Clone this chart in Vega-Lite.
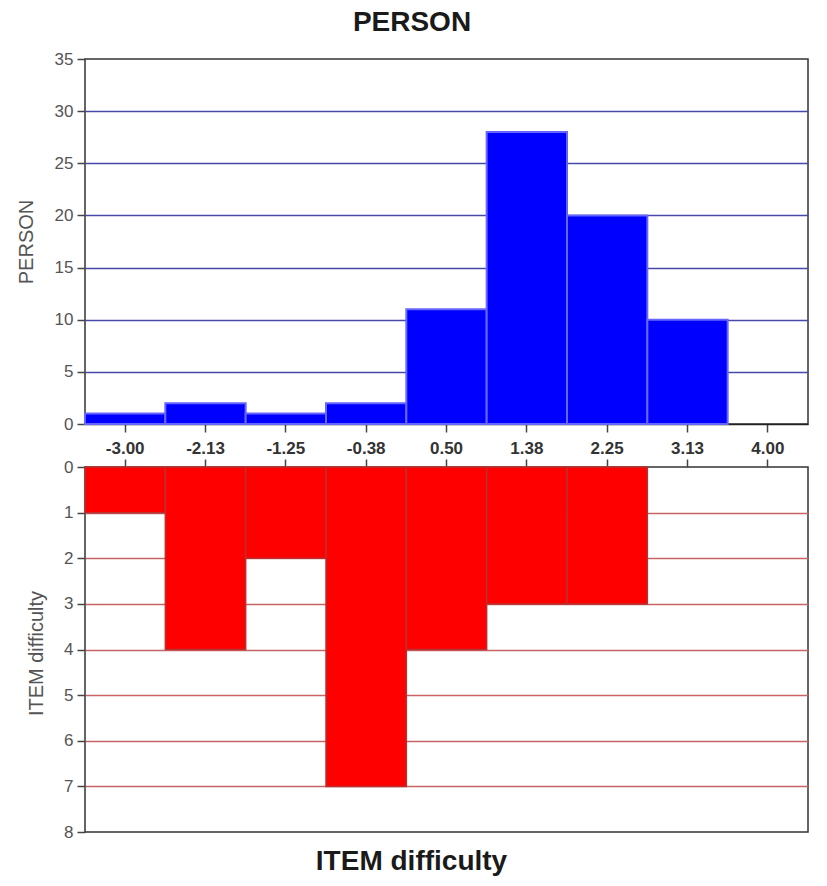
{
  "$schema": "https://vega.github.io/schema/vega-lite/v6.json",
  "padding": {"left": 15, "top": 9, "right": 5, "bottom": 5},
  "background": "white",
  "bounds": "flush",
  "spacing": 43,
  "title": {"text": "PERSON", "font": "Liberation Sans", "fontSize": 28, "fontWeight": "bold", "color": "#1a1a1a", "anchor": "middle", "offset": 12},
  "config": {"view": {"stroke": "#333333", "strokeWidth": 1.5}, "font": "Liberation Sans"},
  "datasets": {
    "person": [
      {"bin": "-3.00", "count": 1},
      {"bin": "-2.13", "count": 2},
      {"bin": "-1.25", "count": 1},
      {"bin": "-0.38", "count": 2},
      {"bin": "0.50", "count": 11},
      {"bin": "1.38", "count": 28},
      {"bin": "2.25", "count": 20},
      {"bin": "3.13", "count": 10}
    ],
    "item": [
      {"bin": "-3.00", "count": 1},
      {"bin": "-2.13", "count": 4},
      {"bin": "-1.25", "count": 2},
      {"bin": "-0.38", "count": 7},
      {"bin": "0.50", "count": 4},
      {"bin": "1.38", "count": 3},
      {"bin": "2.25", "count": 3}
    ]
  },
  "vconcat": [
    {
      "width": 723,
      "height": 365,
      "data": {"name": "person"},
      "mark": {"type": "bar", "fill": "#0000ff", "stroke": "#6666ff", "strokeWidth": 2},
      "encoding": {
        "x": {
          "field": "bin", "type": "ordinal",
          "scale": {"domain": ["-3.00", "-2.13", "-1.25", "-0.38", "0.50", "1.38", "2.25", "3.13", "4.00"], "paddingInner": 0, "paddingOuter": 0},
          "axis": {"orient": "bottom", "title": null, "labelAngle": 0, "domain": true, "domainColor": "#222222", "domainWidth": 1.5, "tickSize": 8, "tickColor": "#444444", "tickWidth": 1.5, "labelFontSize": 17, "labelFontWeight": "bold", "labelColor": "#333333", "labelPadding": 8, "grid": false}
        },
        "y": {
          "field": "count", "type": "quantitative",
          "scale": {"domain": [0, 35], "nice": false, "zero": true},
          "axis": {
            "values": [0, 5, 10, 15, 20, 25, 30, 35],
            "grid": true, "gridColor": "#4848a8", "gridWidth": 1.5,
            "gridOpacity": {"condition": {"test": "datum.value === 0 || datum.value === 35", "value": 0}, "value": 1},
            "domain": false, "tickSize": 8, "tickColor": "#444444", "tickWidth": 1.5,
            "labelFontSize": 17, "labelColor": "#555555", "labelPadding": 4,
            "title": "PERSON", "titleFontSize": 20, "titleFontWeight": "normal", "titleColor": "#555555",
            "titleX": -53, "titleY": 182.5, "titleAngle": -90, "titleBaseline": "alphabetic", "titleAlign": "center"
          }
        }
      }
    },
    {
      "width": 723,
      "height": 365,
      "data": {"name": "item"},
      "title": {"text": "ITEM difficulty", "orient": "bottom", "font": "Liberation Sans", "fontSize": 28, "fontWeight": "bold", "color": "#1a1a1a", "anchor": "middle", "offset": 8, "dx": -35},
      "mark": {"type": "bar", "fill": "#ff0000", "stroke": "#b83030", "strokeWidth": 1.5},
      "encoding": {
        "x": {
          "field": "bin", "type": "ordinal",
          "scale": {"domain": ["-3.00", "-2.13", "-1.25", "-0.38", "0.50", "1.38", "2.25", "3.13", "4.00"], "paddingInner": 0, "paddingOuter": 0},
          "axis": {"orient": "top", "title": null, "labels": false, "domain": false, "tickSize": 8, "tickColor": "#444444", "tickWidth": 1.5, "grid": false}
        },
        "y": {
          "field": "count", "type": "quantitative",
          "scale": {"domain": [0, 8], "nice": false, "reverse": true},
          "axis": {
            "values": [0, 1, 2, 3, 4, 5, 6, 7, 8],
            "grid": true, "gridColor": "#c86464", "gridWidth": 1.5,
            "gridOpacity": {"condition": {"test": "datum.value === 0 || datum.value === 8", "value": 0}, "value": 1},
            "domain": false, "tickSize": 8, "tickColor": "#444444", "tickWidth": 1.5,
            "labelFontSize": 17, "labelColor": "#555555", "labelPadding": 4,
            "title": "ITEM difficulty", "titleFontSize": 20, "titleFontWeight": "normal", "titleColor": "#555555",
            "titleX": -43, "titleY": 186, "titleAngle": -90, "titleBaseline": "alphabetic", "titleAlign": "center"
          }
        }
      }
    }
  ]
}
